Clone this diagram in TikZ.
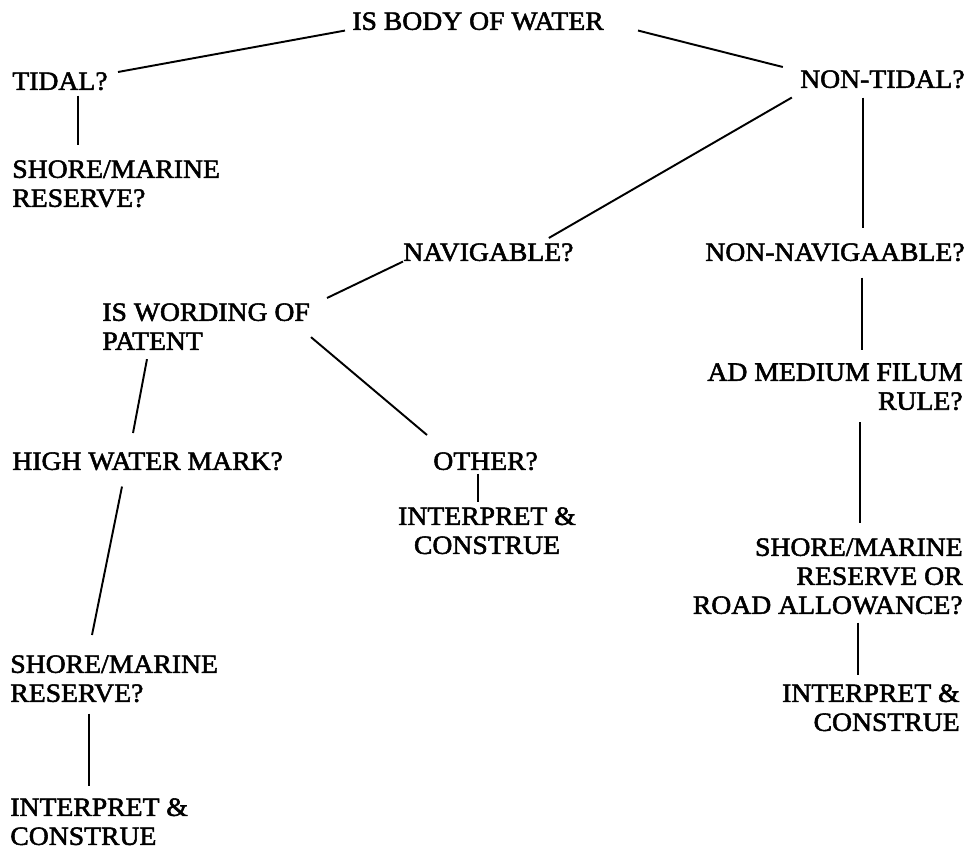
\documentclass[tikz,border=0pt]{standalone}
\usepackage{fontspec}
\setmainfont{Liberation Serif}[FakeStretch=1.05, FakeBold=2]
\usetikzlibrary{calc}
\tikzset{
  lbl/.style={inner sep=0pt, font=\fontsize{15pt}{16.5pt}\selectfont},
  link/.style={line width=1.1pt}
}
\begin{document}
\begin{tikzpicture}[x=0.02cm, y=-0.02cm]
      \useasboundingbox (0,0) rectangle (973,848);
      \draw
        (352,12) node[lbl, anchor=north west] (body){IS BODY OF WATER}
        (12,72) node[lbl, anchor=north west] (tidal){TIDAL?}
        (12,160) node[lbl, anchor=north west, align=left] (shoreT){SHORE/MARINE\\RESERVE?}
        (965,70) node[lbl, anchor=north east] (nontidal){NON-TIDAL?}
        (403,243) node[lbl, anchor=north west] (nav){NAVIGABLE?}
        (965,243) node[lbl, anchor=north east] (nonnav){NON-NAVIGAABLE?}
        (102,303) node[lbl, anchor=north west, align=left] (wording){IS WORDING OF\\PATENT}
        (12,452) node[lbl, anchor=north west] (hwm){HIGH WATER MARK?}
        (433,452) node[lbl, anchor=north west] (other){OTHER?}
        (487,507) node[lbl, anchor=north, align=center] (interpM){INTERPRET \&\\CONSTRUE}
        (963,363) node[lbl, anchor=north east, align=right] (filum){AD MEDIUM FILUM\\RULE?}
        (963,538) node[lbl, anchor=north east, align=right] (shoreR){SHORE/MARINE\\RESERVE OR\\ROAD ALLOWANCE?}
        (960,684) node[lbl, anchor=north east, align=right] (interpR){INTERPRET \&\\CONSTRUE}
        (10,655) node[lbl, anchor=north west, align=left] (shoreB){SHORE/MARINE\\RESERVE?}
        (10,798) node[lbl, anchor=north west, align=left] (interpB){INTERPRET \&\\CONSTRUE};
      \begin{scope}[link]
        \draw ($(body.south west)+(-7,0)$) to ($(tidal.north west)+(106,0)$);
        \draw ($(body.south west)+(286,0)$) to ($(nontidal.north west)+(-17,-3)$);
        \draw ($(tidal.south west)+(66,5)$) to ($(shoreT.north west)+(66,-15)$);
        \draw ($(nontidal.south west)+(-8,9)$) to ($(nav.north east)+(-25,-5)$);
        \draw ($(nontidal.south east)+(-102,9)$) to ($(nonnav.north east)+(-102,-15)$);
        \draw ($(nonnav.south east)+(-103,16)$) to ($(filum.north east)+(-101,-13)$);
        \draw ($(filum.south east)+(-103,12)$) to ($(shoreR.north east)+(-103,-15)$);
        \draw ($(shoreR.south east)+(-105,8)$) to ($(interpR.north east)+(-102,-9)$);
        \draw (nav.south west) to ($(wording.north west)+(225,-5)$);
        \draw ($(wording.south west)+(209,-13)$) to ($(other.north west)+(-6,-17)$);
        \draw ($(wording.south west)+(45,9)$) to ($(hwm.north west)+(121,-19)$);
        \draw ($(hwm.south west)+(110,16)$) to ($(shoreB.north west)+(82,-20)$);
        \draw ($(shoreB.south west)+(79,11)$) to ($(interpB.north west)+(79,-12)$);
        \draw ($(other.south west)+(45,3)$) to ($(interpM.north)+(-9,-5)$);
      \end{scope}
    \end{tikzpicture}
\end{document}
